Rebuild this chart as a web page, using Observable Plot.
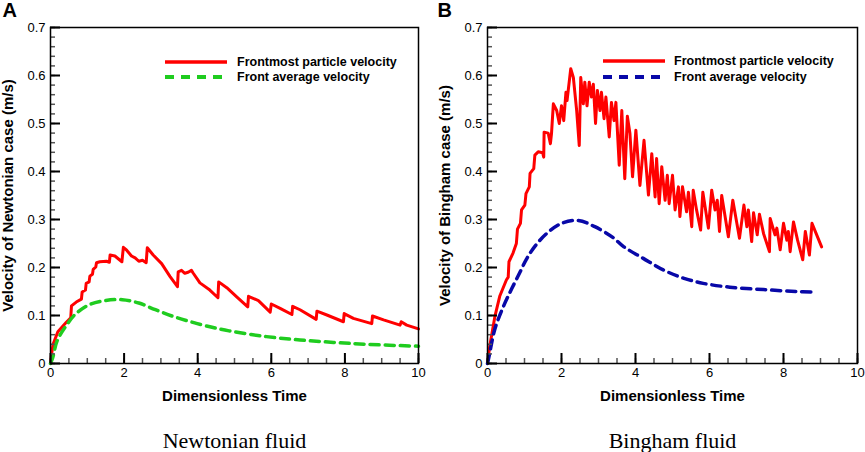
<!DOCTYPE html>
<html><head><meta charset="utf-8">
<script src="https://cdn.jsdelivr.net/npm/d3@7"></script>
<script src="https://cdn.jsdelivr.net/npm/@observablehq/plot@0.6"></script>
<style>
body{margin:0;background:#fff;}
#wrap{position:relative;width:865px;height:452px;overflow:hidden;font-family:"Liberation Sans",Arial,sans-serif;}
#wrap .panel{position:absolute;top:0;}
#legend{position:absolute;left:0;top:0;}
</style></head><body><div id="wrap"></div>
<script>
// ---- data ----
const xTicks = [0, 2, 4, 6, 8, 10];
const yTicks = [0, 0.1, 0.2, 0.3, 0.4, 0.5, 0.6, 0.7];
const xLabel = "Dimensionless Time";
const seriesNames = ["Frontmost particle velocity", "Front average velocity"];

const newtonT = [0,0.03,0.07,0.2,0.43,0.55,0.57,0.7,0.84,0.86,0.95,0.97,1.05,1.07,1.14,1.16,1.23,1.25,1.34,1.52,1.6,1.62,1.75,1.94,1.98,2.07,2.2,2.3,2.4,2.5,2.6,2.63,2.79,3.02,3.25,3.45,3.47,3.56,3.65,3.74,3.83,3.88,4.06,4.33,4.55,4.57,4.79,5.06,5.36,5.38,5.65,5.97,6.0,6.24,6.56,6.58,6.78,7.22,7.24,7.51,7.96,7.98,8.23,8.73,8.75,9.05,9.5,9.53,9.68,10];
const newtonFront = [0,0.02,0.04,0.066,0.086,0.095,0.12,0.128,0.134,0.149,0.153,0.167,0.17,0.182,0.186,0.196,0.201,0.21,0.212,0.213,0.211,0.226,0.224,0.212,0.242,0.236,0.224,0.22,0.213,0.215,0.21,0.241,0.226,0.208,0.181,0.16,0.191,0.194,0.188,0.19,0.194,0.188,0.168,0.153,0.137,0.17,0.158,0.139,0.118,0.14,0.131,0.107,0.124,0.115,0.102,0.119,0.112,0.092,0.109,0.101,0.087,0.104,0.094,0.083,0.099,0.091,0.08,0.087,0.08,0.072];

const newtonAvgT = [0,0.06,0.18,0.41,0.68,1.04,1.49,1.95,2.4,2.85,3.3,3.76,4.24,4.85,5.87,6.78,7.69,8.6,10];
const newtonAvg = [0,0.012,0.047,0.077,0.103,0.122,0.131,0.133,0.126,0.112,0.099,0.088,0.078,0.068,0.056,0.049,0.044,0.04,0.036];

const binghamT = [0,0.06,0.2,0.33,0.51,0.56,0.58,0.69,0.78,0.81,0.89,0.92,1.01,1.04,1.13,1.15,1.25,1.28,1.37,1.49,1.52,1.53,1.64,1.70,1.73,1.78,1.87,1.94,2.0,2.06,2.12,2.15,2.25,2.32,2.41,2.48,2.52,2.59,2.63,2.69,2.75,2.81,2.86,2.92,2.97,3.04,3.08,3.15,3.2,3.29,3.35,3.42,3.47,3.56,3.63,3.71,3.78,3.85,3.92,4.01,4.12,4.23,4.35,4.44,4.53,4.57,4.64,4.71,4.8,4.86,4.91,5.0,5.07,5.16,5.2,5.27,5.38,5.43,5.52,5.56,5.65,5.76,5.82,5.97,6.06,6.15,6.21,6.27,6.33,6.51,6.63,6.81,6.93,7.01,7.05,7.14,7.19,7.29,7.35,7.46,7.62,7.64,7.77,7.82,7.91,8.0,8.09,8.13,8.18,8.27,8.38,8.52,8.59,8.7,8.77,9.03];
const binghamFront = [0,0.036,0.098,0.14,0.174,0.18,0.212,0.23,0.25,0.28,0.292,0.32,0.33,0.354,0.368,0.396,0.406,0.434,0.441,0.439,0.43,0.482,0.48,0.458,0.479,0.541,0.527,0.5,0.537,0.506,0.565,0.548,0.614,0.596,0.527,0.454,0.596,0.541,0.586,0.537,0.586,0.555,0.582,0.5,0.569,0.527,0.565,0.51,0.555,0.472,0.544,0.506,0.544,0.413,0.527,0.385,0.515,0.479,0.389,0.486,0.371,0.465,0.351,0.437,0.347,0.427,0.333,0.41,0.34,0.392,0.333,0.392,0.32,0.368,0.306,0.368,0.316,0.357,0.285,0.361,0.32,0.278,0.357,0.282,0.361,0.32,0.34,0.275,0.35,0.264,0.34,0.261,0.33,0.285,0.32,0.254,0.314,0.268,0.311,0.271,0.233,0.302,0.268,0.282,0.237,0.292,0.257,0.275,0.233,0.295,0.257,0.216,0.275,0.226,0.292,0.243];

const binghamAvgT = [0,0.05,0.2,0.42,0.65,0.87,1.05,1.28,1.6,2.0,2.45,2.9,3.4,3.67,4.21,4.75,5.29,5.83,6.55,7.46,8.36,8.81];
const binghamAvg = [0,0.018,0.072,0.117,0.155,0.189,0.217,0.244,0.271,0.292,0.298,0.285,0.262,0.244,0.219,0.195,0.178,0.167,0.159,0.154,0.15,0.149];

// ---- helpers ----
const zip = (t, v) => t.slice(0, Math.min(t.length, v.length)).map((d, i) => ({t: d, v: v[i]}));
const xMinor = d3.range(0, 10.001, 0.5);
const yMinor = d3.range(0, 0.7001, 0.02);
const RED = "#ff0000", GREEN = "#1fcc1f", BLUE = "#0808a8";
const SANS = "'Liberation Sans', Arial, sans-serif";
const SERIF = "'Liberation Serif', 'Times New Roman', serif";
const MT = 27, MB = 89, H = 452;

function panel({W, ml, mr, letter, letterDx, ylabel, caption, front, avg, avgColor}) {
  return Plot.plot({
    width: W, height: H, marginLeft: ml, marginRight: mr, marginTop: MT, marginBottom: MB,
    style: {fontFamily: SANS, fontSize: "13px", color: "#000", background: "transparent"},
    x: {domain: [0, 10], axis: null},
    y: {domain: [0, 0.7], axis: null},
    marks: [
      Plot.line(front, {x: "t", y: "v", stroke: RED, strokeWidth: 3}),
      Plot.line(avg, {x: "t", y: "v", stroke: avgColor, strokeWidth: 3.5, strokeDasharray: "9,6", curve: "catmull-rom"}),
      Plot.text([xLabel], {text: d => d, frameAnchor: "bottom", dy: 33, lineAnchor: "middle", textAnchor: "middle", fontWeight: "bold", fontSize: 15}),
      Plot.text([ylabel], {text: d => d, frameAnchor: "left", dx: -42, rotate: -90, lineAnchor: "middle", textAnchor: "middle", fontWeight: "bold", fontSize: 15}),
      Plot.text([letter], {text: d => d, frameAnchor: "top-left", dx: letterDx, dy: -16.5, lineAnchor: "middle", textAnchor: "start", fontWeight: "bold", fontSize: 20}),
      Plot.text([caption], {text: d => d, frameAnchor: "bottom", dy: 77, lineAnchor: "middle", textAnchor: "middle", fontFamily: SERIF, fontSize: 22})
    ]
  });
}

function axes({W, ml, mr}) {
  const fw = W - ml - mr, fh = H - MT - MB;
  return Plot.plot({
    width: W, height: H, marginLeft: ml, marginRight: mr, marginTop: MT, marginBottom: MB,
    style: {fontFamily: SANS, fontSize: "13px", color: "#000", background: "transparent"},
    x: {domain: [0, 10]},
    y: {domain: [0, 0.7]},
    marks: [
      Plot.tickX(xMinor, {x: d => d, insetTop: fh - 5, strokeWidth: 1.5, stroke: "#555"}),
      Plot.tickX(xTicks, {x: d => d, insetTop: fh - 10, strokeWidth: 2, stroke: "#000"}),
      Plot.tickY(yMinor, {y: d => d, insetRight: fw - 5, strokeWidth: 1.5, stroke: "#555"}),
      Plot.tickY(yTicks, {y: d => d, insetRight: fw - 10, strokeWidth: 2, stroke: "#000"}),
      Plot.axisX({ticks: xTicks, tickSize: 0, tickPadding: 4, tickFormat: d => String(d), label: null}),
      Plot.axisY({ticks: yTicks, tickSize: 0, tickPadding: 5, tickFormat: d => String(d), label: null}),
      Plot.frame({stroke: "#000", strokeWidth: 1.5})
    ]
  });
}

const wrap = document.getElementById("wrap");
function place(el, x) { el.classList.add("panel"); el.style.left = x + "px"; wrap.appendChild(el); }

const leftCfg = {W: 432, ml: 50, mr: 14, letter: "A", letterDx: -48,
  ylabel: "Velocity of Newtonian case (m/s)", caption: "Newtonian fluid",
  front: zip(newtonT, newtonFront), avg: zip(newtonAvgT, newtonAvg), avgColor: GREEN};
const rightCfg = {W: 433, ml: 55, mr: 8, letter: "B", letterDx: -50,
  ylabel: "Velocity of Bingham case (m/s)", caption: "Bingham fluid",
  front: zip(binghamT, binghamFront), avg: zip(binghamAvgT, binghamAvg), avgColor: BLUE};

place(panel(leftCfg), 0);
place(axes(leftCfg), 0);
place(panel(rightCfg), 432);
place(axes(rightCfg), 432);

// ---- legends ----
const svg = d3.select(wrap).append("svg").attr("id", "legend").attr("width", 865).attr("height", 452).style("pointer-events", "none");
const legends = [
  {x0: 165, x1: 227, tx: 237, y0: 62, y1: 77, c: GREEN},
  {x0: 603, x1: 665, tx: 674, y0: 61, y1: 77, c: BLUE}
];
for (const L of legends) {
  svg.append("line").attr("x1", L.x0).attr("x2", L.x1).attr("y1", L.y0).attr("y2", L.y0)
    .attr("stroke", RED).attr("stroke-width", 3.5);
  svg.append("line").attr("x1", L.x0).attr("x2", L.x1).attr("y1", L.y1).attr("y2", L.y1)
    .attr("stroke", L.c).attr("stroke-width", 4).attr("stroke-dasharray", "9,7");
  [L.y0, L.y1].forEach((y, i) => {
    svg.append("text").attr("x", L.tx).attr("y", y).attr("dy", "0.35em")
      .attr("font-family", SANS).attr("font-weight", "bold").attr("font-size", 12.5)
      .text(seriesNames[i]);
  });
}
</script></body></html>
